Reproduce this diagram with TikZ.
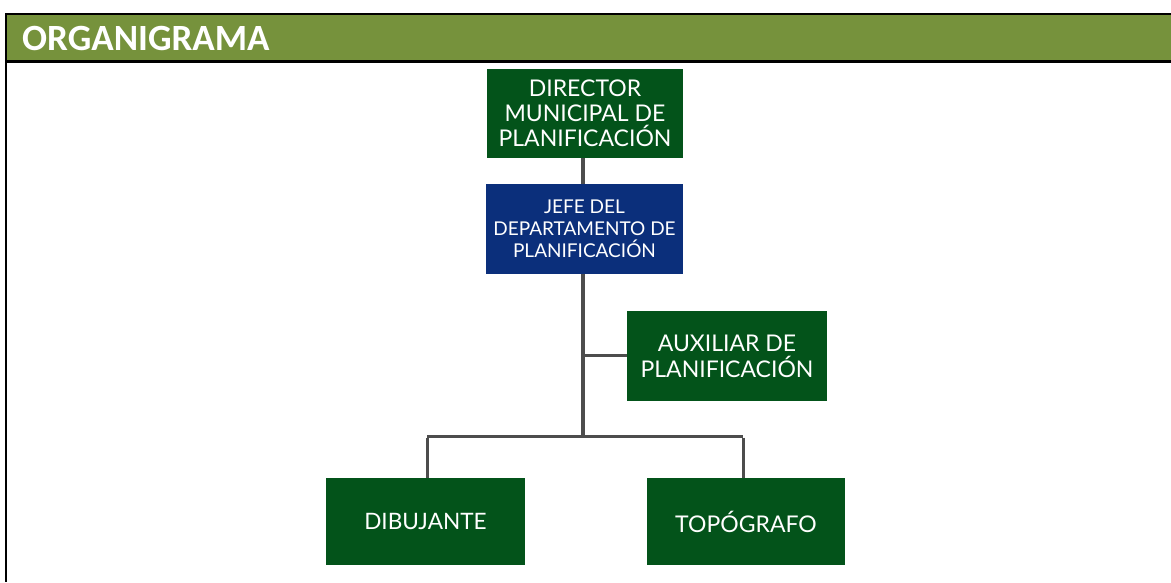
\documentclass[tikz,border=0pt]{standalone}
\usepackage{fontspec}
\setmainfont{Lato}
\newfontfamily\headfont{Carlito}
\definecolor{hdr}{HTML}{76923C}
\definecolor{dgreen}{HTML}{03531A}
\definecolor{dblue}{HTML}{0B2F7B}
\definecolor{conn}{HTML}{4D4D4D}
\begin{document}
\begin{tikzpicture}[x=1pt,y=-1pt,
  box/.style={fill=dgreen,draw=none,text=white,align=center,inner sep=0pt},
  bluebox/.style={box,fill=dblue},
  link/.style={draw=conn,line width=3.5pt},
  branch/.style={draw=conn,line width=3pt}]
\useasboundingbox (0,0) rectangle (1171,582);
% header
\fill[hdr] (6,14) rectangle (1171,61);
\draw[line width=2.2pt] (1171,14) -- (6,14) -- (6,582);
\draw[line width=2.2pt] (6,61.5) -- (1171,61.5);
\node[anchor=west,text=white,font=\headfont\bfseries\fontsize{37}{42}\selectfont,inner sep=0pt] (title) at (22,38.5) {ORGANIGRAMA};
% boxes
\node[box,minimum width=196pt,minimum height=89pt,font=\fontsize{23}{25}\selectfont] (dir) at (585,113.5) {DIRECTOR\\MUNICIPAL DE\\PLANIFICACIÓN};
\node[bluebox,minimum width=197pt,minimum height=90pt,font=\fontsize{19}{22}\selectfont] (jefe) at (584.5,229) {JEFE DEL\\DEPARTAMENTO DE\\PLANIFICACIÓN};
\node[box,minimum width=200pt,minimum height=90pt,font=\fontsize{23}{26}\selectfont] (aux) at (727,356) {AUXILIAR DE\\PLANIFICACIÓN};
\node[box,minimum width=199pt,minimum height=87pt,font=\fontsize{22.6}{25}\selectfont] (dib) at (425.5,521.5) {DIBUJANTE};
\node[box,minimum width=198pt,minimum height=87pt,font=\fontsize{23}{25}\selectfont] (top) at (746,521.5) {TOPÓGRAFO};
% connectors
\coordinate (j) at (583,355);
\coordinate (bus) at (583,436);
\coordinate (busl) at (427,436);
\coordinate (busr) at (743,436);
\draw[link] (dir.south -| 583,0) -- (jefe.north -| 583,0);
\draw[link] (jefe.south -| 583,0) -- (bus);
\draw[branch] (j) -- (aux.west |- j);
\draw[branch] (busl) -- (busr);
\draw[branch] ([yshift=-1.5pt]busl) -- (dib.north -| busl);
\draw[branch] ([yshift=-1.5pt]busr) -- (top.north -| busr);
\end{tikzpicture}
\end{document}
